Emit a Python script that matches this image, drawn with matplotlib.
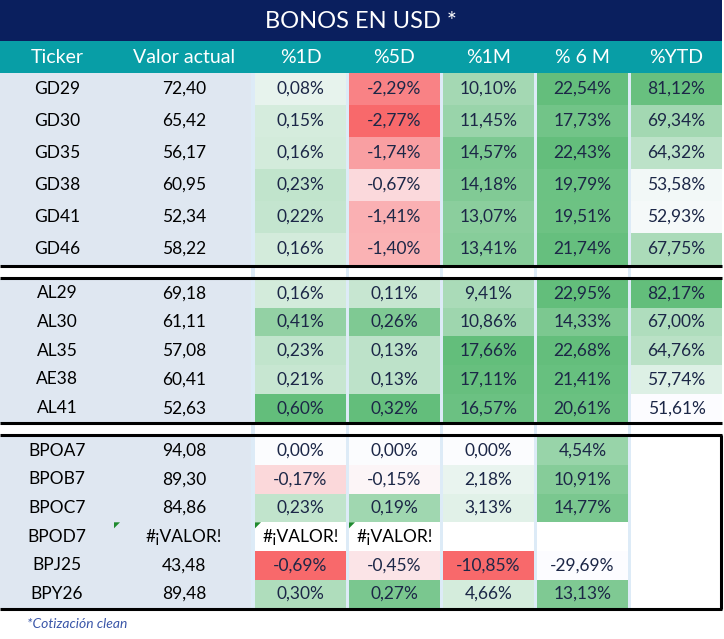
import matplotlib.pyplot as plt
from matplotlib.patches import Rectangle, Polygon
from matplotlib.colors import LinearSegmentedColormap, TwoSlopeNorm, Normalize

plt.rcParams["font.family"] = ["Lato", "DejaVu Sans"]

ERR = "#¡VALOR!"

# datos de la tabla (tres bloques: GD, AL/AE, BP)
tickers = ["GD29", "GD30", "GD35", "GD38", "GD41", "GD46",
           "AL29", "AL30", "AL35", "AE38", "AL41",
           "BPOA7", "BPOB7", "BPOC7", "BPOD7", "BPJ25", "BPY26"]
bloques = [6, 5, 6]
valor = [72.40, 65.42, 56.17, 60.95, 52.34, 58.22,
         69.18, 61.11, 57.08, 60.41, 52.63,
         94.08, 89.30, 84.86, ERR, 43.48, 89.48]
var_1d = [0.08, 0.15, 0.16, 0.23, 0.22, 0.16,
          0.16, 0.41, 0.23, 0.21, 0.60,
          0.00, -0.17, 0.23, ERR, -0.69, 0.30]
var_5d = [-2.29, -2.77, -1.74, -0.67, -1.41, -1.40,
          0.11, 0.26, 0.13, 0.13, 0.32,
          0.00, -0.15, 0.19, ERR, -0.45, 0.27]
var_1m = [10.10, 11.45, 14.57, 14.18, 13.07, 13.41,
          9.41, 10.86, 17.66, 17.11, 16.57,
          0.00, 2.18, 3.13, None, -10.85, 4.66]
var_6m = [22.54, 17.73, 22.43, 19.79, 19.51, 21.74,
          22.95, 14.33, 22.68, 21.41, 20.61,
          4.54, 10.91, 14.77, None, -29.69, 13.13]
var_ytd = [81.12, 69.34, 64.32, 53.58, 52.93, 67.75,
           82.17, 67.00, 64.76, 57.74, 51.61,
           None, None, None, None, None, None]
encabezados = ["Ticker", "Valor actual", "%1D", "%5D", "%1M", "% 6 M", "%YTD"]
titulo = "BONOS EN USD *"
nota = "*Cotización clean"

columnas = [var_1d, var_5d, var_1m, var_6m, var_ytd]
tres_colores = [True, True, True, False, False]

rojo_blanco_verde = LinearSegmentedColormap.from_list("rbv", ["#F8696B", "#FCFCFF", "#63BE7B"])
blanco_verde = LinearSegmentedColormap.from_list("bv", ["#FCFCFF", "#63BE7B"])

def fmt(v, pct=False):
    if isinstance(v, str):
        return v
    s = f"{v:.2f}".replace(".", ",")
    return s + "%" if pct else s

fig = plt.figure(figsize=(7.24, 6.39), dpi=100)
ax = fig.add_axes([0, 0, 1, 1])
ax.set_xlim(0, 724)
ax.set_ylim(639, 0)
ax.axis("off")

# geometria
ancho = 722
col_x = [255, 349, 443, 537, 631]
col_w = 91
ticker_cx, valor_cx, valor_x0 = 57, 184, 114
inicio_bloques = [73, 279, 436.5]
alto_filas = [32, 28.7, 28.6]

# titulo y encabezado
ax.add_patch(Rectangle((0, 0), ancho, 41, color="#0a1f5e", lw=0))
ax.text(ancho / 2, 21, titulo, color="white", fontsize=17, ha="center", va="center")
ax.add_patch(Rectangle((0, 41), ancho, 32, color="#089ea6", lw=0))
cx_enc = [ticker_cx, valor_cx] + [x + col_w / 2 for x in col_x]
for cx, t in zip(cx_enc, encabezados):
    ax.text(cx, 57.5, t, color="white", fontsize=14, ha="center", va="center")

# filas
i = 0
for b, n in enumerate(bloques):
    y0 = inicio_bloques[b]
    h = alto_filas[b]
    ax.add_patch(Rectangle((0, y0), 251, h * n, color="#dfe7f1", lw=0))
    for k in range(n):
        y = y0 + k * h
        cy = y + h / 2
        ax.text(ticker_cx, cy, tickers[i], fontsize=12.5, ha="center", va="center", color="black")
        ax.text(valor_cx, cy, fmt(valor[i]), fontsize=12.5, ha="center", va="center", color="black")
        if valor[i] == ERR:
            ax.add_patch(Polygon([(valor_x0, y), (valor_x0 + 6, y), (valor_x0, y + 6)], color="#1e8a2e", lw=0))
        for c, datos in enumerate(columnas):
            v = datos[i]
            x = col_x[c]
            fc = "white"
            if isinstance(v, float):
                nums = [d for d in datos if isinstance(d, float)]
                if tres_colores[c]:
                    norm = TwoSlopeNorm(vcenter=0, vmin=min(nums), vmax=max(nums))
                    fc = rojo_blanco_verde(norm(v))
                else:
                    norm = Normalize(min(nums), max(nums))
                    fc = blanco_verde(norm(v))
            ax.add_patch(Rectangle((x, y), col_w, h, color=fc, lw=0))
            if v is not None:
                ax.text(x + col_w / 2, cy, fmt(v, True), fontsize=12.5, ha="center", va="center",
                        color="black" if v == ERR else "#1c2747")
            if v == ERR:
                ax.add_patch(Polygon([(x, y), (x + 6, y), (x, y + 6)], color="#1e8a2e", lw=0))
        i += 1

# lineas negras de separacion
for y in [266.3, 277.7, 423.2, 435.2, 609.2]:
    ax.plot([0, ancho], [y, y], color="black", lw=2.2, solid_capstyle="butt")
ax.plot([721.3, 721.3], [435.2, 609.2], color="black", lw=2.2, solid_capstyle="butt")

# separadores celestes entre columnas
for x in [251] + [cx + col_w for cx in col_x[:-1]]:
    ax.add_patch(Rectangle((x, 73), 255 - 251 if x == 251 else 3, 537, color="#ddebf7", lw=0))

ax.text(27, 624, nota, fontsize=10, style="italic", color="#3a56a8", ha="left", va="center")

fig.savefig("out.png", dpi=100)
